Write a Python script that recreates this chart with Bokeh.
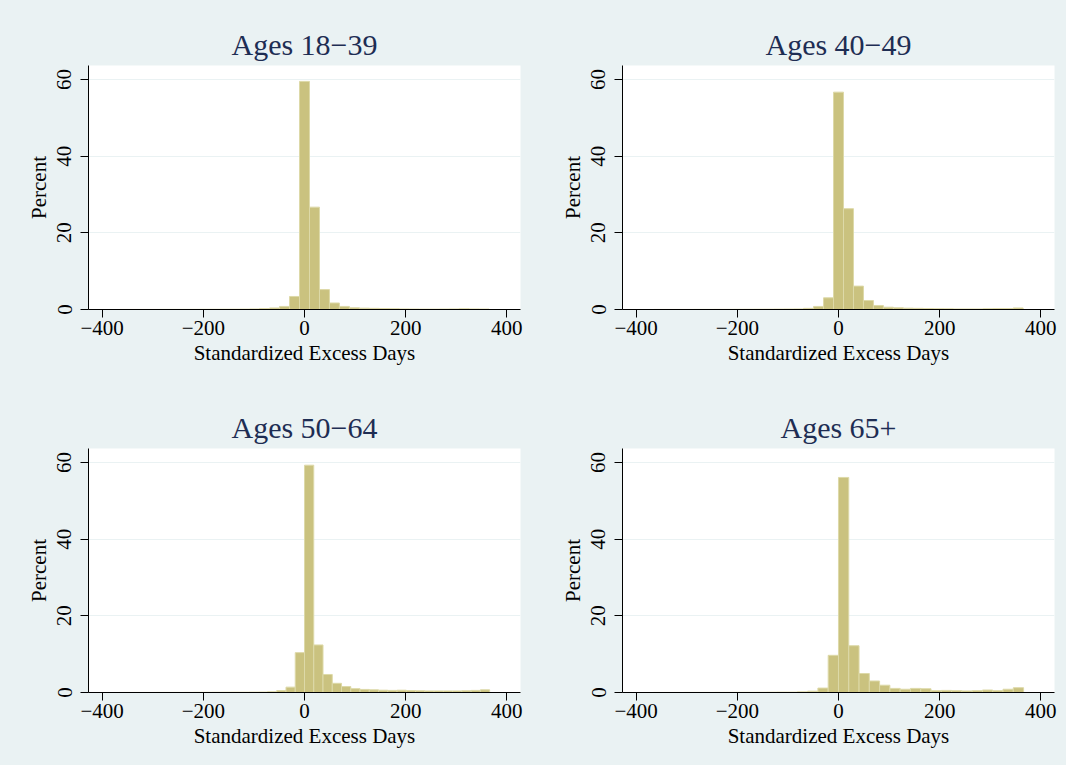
import numpy as np
from bokeh.plotting import figure
from bokeh.layouts import column, row
from bokeh.models import FixedTicker, ColumnDataSource
from bokeh.embed import file_html
from bokeh.resources import INLINE

# ---------------- data ----------------
panel_titles = ["Ages 18\u221239", "Ages 40\u221249", "Ages 50\u221264", "Ages 65+"]
x_label = "Standardized Excess Days"
y_label = "Percent"

x_ticks = [-400, -200, 0, 200, 400]
x_tick_labels = ["\u2212400", "\u2212200", "0", "200", "400"]
y_ticks = [0, 20, 40, 60]
y_tick_labels = ["0", "20", "40", "60"]

# histogram bins: first edge and width (days)
bin_start = [-365.0, -365.0, -366.0, -366.0]
bin_width = [19.73, 19.73, 18.3, 20.33]

percent_18_39 = [0.02, 0.02, 0.02, 0.02, 0.03, 0.03, 0.03, 0.04, 0.05, 0.06,
                 0.07, 0.08, 0.10, 0.15, 0.25, 0.40, 0.80, 3.40, 59.5, 26.7,
                 5.20, 1.70, 0.80, 0.45, 0.35, 0.30, 0.25, 0.20, 0.15, 0.12,
                 0.10, 0.10, 0.12, 0.15, 0.20, 0.15, 0.12]
percent_40_49 = [0.02, 0.02, 0.02, 0.02, 0.03, 0.03, 0.04, 0.04, 0.05, 0.06,
                 0.07, 0.08, 0.10, 0.12, 0.15, 0.30, 0.80, 3.05, 56.7, 26.3,
                 6.10, 2.35, 1.05, 0.60, 0.45, 0.35, 0.30, 0.25, 0.20, 0.18,
                 0.15, 0.15, 0.15, 0.20, 0.25, 0.25, 0.40]
percent_50_64 = [0.02, 0.02, 0.02, 0.02, 0.03, 0.03, 0.03, 0.04, 0.05, 0.05,
                 0.06, 0.07, 0.08, 0.08, 0.10, 0.12, 0.20, 0.50, 1.40, 10.4,
                 59.3, 12.4, 4.70, 2.40, 1.55, 1.00, 0.80, 0.70, 0.60, 0.55,
                 0.60, 0.50, 0.45, 0.40, 0.40, 0.40, 0.40, 0.45, 0.55, 0.70]
percent_65plus = [0.02, 0.02, 0.02, 0.03, 0.03, 0.03, 0.04, 0.04, 0.05, 0.05,
                  0.06, 0.08, 0.10, 0.10, 0.17, 0.35, 1.15, 9.70, 56.1, 12.2,
                  4.96, 3.00, 1.90, 1.07, 0.85, 1.07, 0.98, 0.48, 0.55, 0.48,
                  0.40, 0.48, 0.65, 0.48, 0.85, 1.25]

series = [percent_18_39, percent_40_49, percent_50_64, percent_65plus]

# ---------------- style ----------------
FONT = "Liberation Serif"
BG = "#EAF2F3"
BAR_FILL = "#CAC27F"
BAR_LINE = "#DDD9A8"
TITLE_COLOR = "#1E2D53"

x_range = (-427, 427)
y_range = (0, 63.65)

def make_panel(i, width, height, b_left, b_right, b_top, b_bottom):
    p = figure(width=width, height=height, output_backend="svg",
               toolbar_location=None, x_range=x_range, y_range=y_range,
               min_border_left=b_left, min_border_right=b_right,
               min_border_top=b_top, min_border_bottom=b_bottom,
               title=panel_titles[i])
    p.border_fill_color = BG
    p.background_fill_color = "white"
    p.outline_line_color = None

    vals = np.array(series[i])
    left = bin_start[i] + np.arange(len(vals)) * bin_width[i]
    src = ColumnDataSource(dict(left=left, right=left + bin_width[i], top=vals))
    p.quad(left="left", right="right", top="top", bottom=0, source=src,
           fill_color=BAR_FILL, line_color=BAR_LINE, line_width=1)

    p.title.align = "center"
    p.title.text_font = FONT
    p.title.text_font_size = "30px"
    p.title.text_font_style = "normal"
    p.title.text_color = TITLE_COLOR
    p.title.standoff = 10

    p.xgrid.visible = False
    p.ygrid.ticker = FixedTicker(ticks=y_ticks)
    p.ygrid.grid_line_color = BG
    p.ygrid.grid_line_width = 1

    for ax in (p.xaxis[0], p.yaxis[0]):
        ax.axis_line_color = "black"
        ax.major_tick_line_color = "black"
        ax.major_tick_out = 8
        ax.major_tick_in = 0
        ax.minor_tick_line_color = None
        ax.major_label_text_font = FONT
        ax.major_label_text_font_size = "21px"
        ax.major_label_text_color = "black"
        ax.axis_label_text_font = FONT
        ax.axis_label_text_font_size = "21px"
        ax.axis_label_text_font_style = "normal"
        ax.axis_label_text_color = "black"

    xa = p.xaxis[0]
    xa.ticker = FixedTicker(ticks=x_ticks)
    xa.major_label_overrides = {t: l for t, l in zip(x_ticks, x_tick_labels)}
    xa.axis_label = x_label
    xa.major_label_standoff = 3
    xa.axis_label_standoff = 3

    ya = p.yaxis[0]
    ya.ticker = FixedTicker(ticks=y_ticks)
    ya.major_label_overrides = {t: l for t, l in zip(y_ticks, y_tick_labels)}
    ya.axis_label = y_label
    ya.major_label_orientation = "vertical"
    ya.major_label_standoff = 9
    ya.axis_label_standoff = 4
    return p

# frames are 432 x 244 px
p1 = make_panel(0, 542, 391, 88, 22, 65, 82)
p2 = make_panel(1, 524, 391, 80, 12, 65, 82)
p3 = make_panel(2, 542, 374, 88, 22, 57, 73)
p4 = make_panel(3, 524, 374, 80, 12, 57, 73)

bg_style = {"background-color": BG}
layout = column(row(p1, p2, styles=bg_style), row(p3, p4, styles=bg_style),
                styles=bg_style)

open("out.html", "w").write(file_html(layout, INLINE))
